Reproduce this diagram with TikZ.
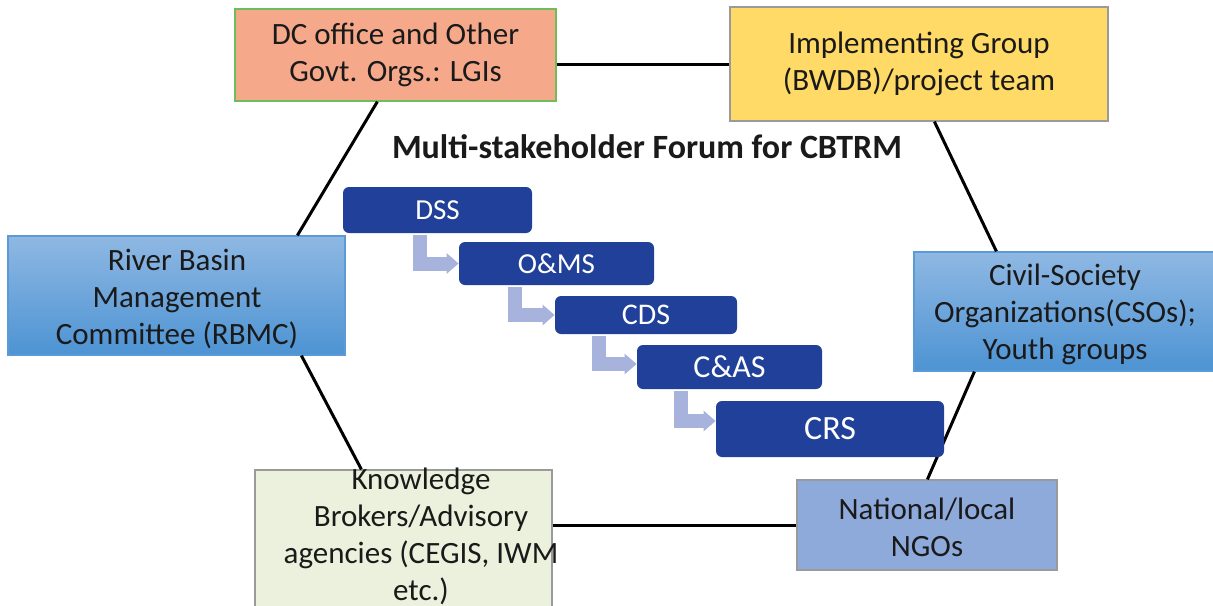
\documentclass[tikz,border=0pt]{standalone}
\usepackage{fontspec}
\setmainfont{Carlito}
\usetikzlibrary{calc,arrows.meta}

\definecolor{dcfill}{HTML}{F5A98A}
\definecolor{dcline}{HTML}{6DBE5A}
\definecolor{implfill}{HTML}{FFDA66}
\definecolor{greyline}{HTML}{9A9A9A}
\definecolor{bluetop}{HTML}{8FB8E3}
\definecolor{bluebot}{HTML}{4D93D3}
\definecolor{blueline}{HTML}{5B9BD5}
\definecolor{knowfill}{HTML}{EBF1DC}
\definecolor{ngofill}{HTML}{8EAADB}
\definecolor{stagefill}{HTML}{21409A}
\definecolor{elbowcol}{HTML}{A8B3DD}
\definecolor{inkcol}{HTML}{1A1A1A}

\begin{document}
\begin{tikzpicture}[x=0.5pt, y=-0.5pt,
  party/.style={draw, line width=0.6pt, inner sep=0pt},
  partytext/.style={align=center, text=inkcol, font=\fontsize{15.5}{18.5}\selectfont},
  bluebox/.style={party, draw=blueline, top color=bluetop, bottom color=bluebot},
  stage/.style={fill=stagefill, rounded corners=3pt, inner sep=0pt, text=white},
  link/.style={line width=1.5pt, black},
  elbow/.style={line width=7pt, elbowcol, -{Triangle[length=6pt, width=10pt]}}
]
\useasboundingbox (0,0) rectangle (1213,605);
\clip (0,0) rectangle (1213,605);

% stakeholder boxes round the forum
\node[party, draw=dcline, fill=dcfill, minimum width=160.5pt, minimum height=46pt,
      partytext] (dc) at (395.5,55) {DC office and Other\\Govt. Orgs.: LGIs};
\node[party, draw=greyline, fill=implfill, minimum width=189pt, minimum height=57pt,
      partytext] (impl) at (919,64) {Implementing Group\\(BWDB)/project team};
\node[bluebox, minimum width=168.5pt, minimum height=59.5pt, partytext] (rbmc) at (176.5,295.5) {};
\node[partytext] at (177,298.5) {River Basin\\Management\\Committee (RBMC)};
\node[bluebox, minimum width=151pt, minimum height=59.5pt] (cso) at (1065,311.5) {};
\node[partytext] at (1065,314.5) {Civil-Society\\Organizations(CSOs);\\Youth groups};
\node[party, draw=greyline, fill=knowfill, minimum width=148.5pt, minimum height=71pt] (know) at (403.5,541) {};
\node[partytext] at (421,536) {Knowledge\\Brokers/Advisory\\agencies (CEGIS, IWM\\etc.)};
\node[party, draw=greyline, fill=ngofill, minimum width=130pt, minimum height=45pt] (ngo) at (927,525) {};
\node[partytext] at (927,527.5) {National/local\\NGOs};

% hexagon of links between the stakeholders
\draw[link] (dc.east |- impl.west) -- (impl.west);
\draw[link] ($(dc.south west)+(143,0)$) -- ($(rbmc.north west)+(290,0)$);
\draw[link] ($(rbmc.south west)+(294,0)$) -- ($(know.north west)+(107,0)$);
\draw[link] (know.east |- ngo.west) -- (ngo.west);
\draw[link] ($(ngo.north west)+(131,0)$) -- ($(cso.south west)+(61,0)$);
\draw[link] ($(cso.north west)+(83,0)$) -- ($(impl.south west)+(205,0)$);

% forum title
\node[font=\fontsize{17}{20}\selectfont\bfseries, text=inkcol] (title) at (647,147) {Multi-stakeholder Forum for CBTRM};

% staircase of forum stages
\node[stage, minimum width=94.5pt, minimum height=23pt, font=\fontsize{14.5}{16}\selectfont] (dss) at (437.5,210) {DSS};
\node[stage, minimum width=97.5pt, minimum height=21.5pt, font=\fontsize{14.5}{16}\selectfont] (oms) at (556.5,263.5) {O\&MS};
\node[stage, minimum width=91pt, minimum height=19pt, font=\fontsize{15}{16}\selectfont] (cds) at (646,315) {CDS};
\node[stage, minimum width=92.5pt, minimum height=22pt, font=\fontsize{16}{17}\selectfont] (cas) at (729.5,367) {C\&AS};
\node[stage, minimum width=114pt, minimum height=28pt, font=\fontsize{17}{18}\selectfont] (crs) at (830,429) {CRS};

% elbow arrows stepping down the staircase
\draw[elbow] ($(dss.south west)+(77,2)$) |- (oms.west);
\draw[elbow] ($(oms.south west)+(56,2)$) |- (cds.west);
\draw[elbow] ($(cds.south west)+(44,2)$) |- ($(cas.west)+(0,-3)$);
\draw[elbow] ($(cas.south west)+(44,2)$) |- ($(crs.west)+(0,-8)$);
\end{tikzpicture}
\end{document}
